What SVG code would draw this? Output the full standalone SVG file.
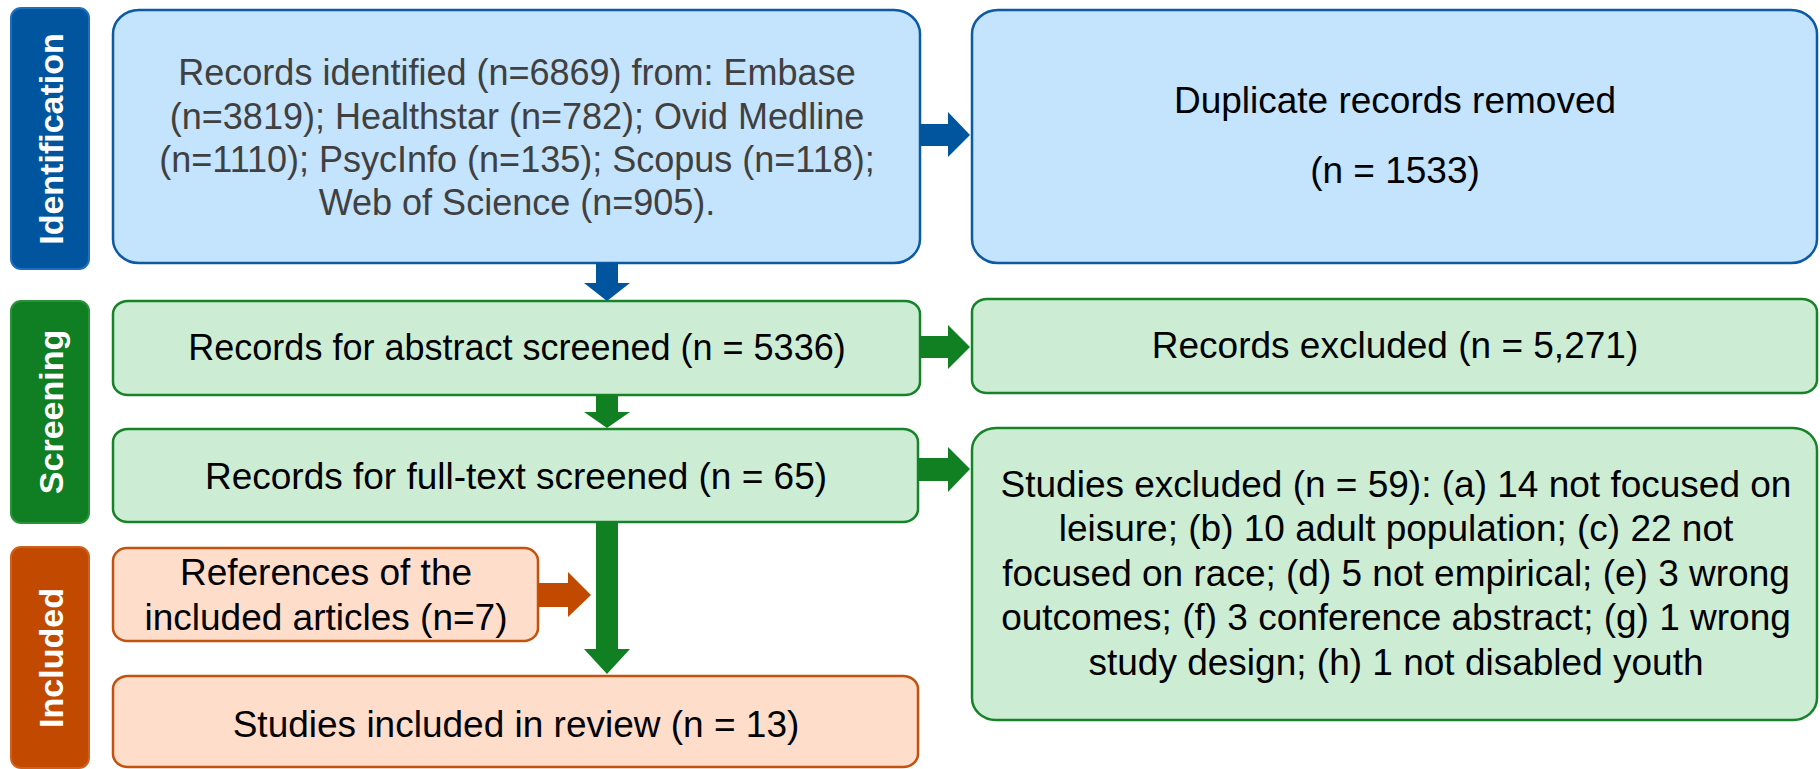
<svg xmlns="http://www.w3.org/2000/svg" width="1820" height="769" viewBox="0 0 1820 769">
  <style>
    text { font-family: "Liberation Sans", Arial, sans-serif; }
    .lbl { font-size: 34px; font-weight: bold; fill: #ffffff; text-anchor: middle; }
    .t { font-size: 37px; fill: #000000; text-anchor: middle; }
    .t36 { font-size: 36px; fill: #000000; text-anchor: middle; }
    .tg { font-size: 36px; fill: #404040; text-anchor: middle; }
    .blue-box { fill: #C4E3FC; stroke: #0B5AA3; stroke-width: 2.5; }
    .green-box { fill: #CCEDD3; stroke: #178329; stroke-width: 2.5; }
    .orange-box { fill: #FEDDCA; stroke: #C5520C; stroke-width: 2.5; }
    .blue-tag { fill: #00569E; stroke: #1F6FC0; stroke-width: 2; }
    .green-tag { fill: #107E22; stroke: #2A9338; stroke-width: 2; }
    .orange-tag { fill: #C24A00; stroke: #D06020; stroke-width: 2; }
    .arr-blue { fill: #00569E; }
    .arr-green { fill: #118022; }
    .arr-orange { fill: #C24A00; }
  </style>

  <!-- stage labels -->
  <g id="stage-identification">
    <rect class="blue-tag" x="11" y="8" width="78" height="261" rx="10" ry="10"/>
    <text class="lbl" transform="translate(63,139) rotate(-90)">Identification</text>
  </g>
  <g id="stage-screening">
    <rect class="green-tag" x="11" y="301" width="78" height="222" rx="10" ry="10"/>
    <text class="lbl" transform="translate(63,412) rotate(-90)">Screening</text>
  </g>
  <g id="stage-included">
    <rect class="orange-tag" x="11" y="547" width="78" height="221" rx="10" ry="10"/>
    <text class="lbl" transform="translate(63,658) rotate(-90)">Included</text>
  </g>

  <!-- identification -->
  <g id="records-identified">
    <rect class="blue-box" x="113" y="10" width="807" height="253" rx="26" ry="24"/>
    <text class="tg" x="517" y="85">Records identified (n=6869) from: Embase</text>
    <text class="tg" x="517" y="128.5">(n=3819); Healthstar (n=782); Ovid Medline</text>
    <text class="tg" x="517" y="172">(n=1110); PsycInfo (n=135); Scopus (n=118);</text>
    <text class="tg" x="517" y="215">Web of Science (n=905).</text>
  </g>
  <g id="duplicates-removed">
    <rect class="blue-box" x="972" y="10" width="845" height="253" rx="26" ry="24"/>
    <text class="t" x="1395" y="113">Duplicate records removed</text>
    <text class="t" x="1395" y="183">(n = 1533)</text>
  </g>

  <!-- screening -->
  <g id="abstract-screened">
    <rect class="green-box" x="113" y="301" width="807" height="94" rx="15" ry="13"/>
    <text class="t36" x="517" y="360">Records for abstract screened (n = 5336)</text>
  </g>
  <g id="records-excluded">
    <rect class="green-box" x="972" y="299" width="845" height="94" rx="15" ry="13"/>
    <text class="t" x="1395" y="358">Records excluded (n = 5,271)</text>
  </g>
  <g id="fulltext-screened">
    <rect class="green-box" x="113" y="429" width="805" height="93" rx="15" ry="13"/>
    <text class="t" x="516" y="489">Records for full-text screened (n = 65)</text>
  </g>
  <g id="studies-excluded">
    <rect class="green-box" x="972" y="428" width="845" height="292" rx="24" ry="22"/>
    <text class="t" x="1396" y="497">Studies excluded (n = 59): (a) 14 not focused on</text>
    <text class="t" x="1396" y="541">leisure; (b) 10 adult population; (c) 22 not</text>
    <text class="t" x="1396" y="586">focused on race; (d) 5 not empirical; (e) 3 wrong</text>
    <text class="t" x="1396" y="630">outcomes; (f) 3 conference abstract; (g) 1 wrong</text>
    <text class="t" x="1396" y="675">study design; (h) 1 not disabled youth</text>
  </g>

  <!-- included -->
  <g id="references">
    <rect class="orange-box" x="113" y="548" width="425" height="93" rx="14" ry="13"/>
    <text class="t" x="326" y="585">References of the</text>
    <text class="t" x="326" y="630">included articles (n=7)</text>
  </g>
  <g id="studies-included">
    <rect class="orange-box" x="113" y="676" width="805" height="91" rx="15" ry="13"/>
    <text class="t" x="516" y="737">Studies included in review (n = 13)</text>
  </g>

  <!-- connectors: block arrows -->
  <g id="connectors">
    <polygon class="arr-blue" points="920,124 948,124 948,112 970,135 948,157 948,146 920,146"/>
    <polygon class="arr-blue" points="596,263 618,263 618,283 630,283 607,301 584,283 596,283"/>
    <polygon class="arr-green" points="920,336 948,336 948,325 970,347 948,369 948,358 920,358"/>
    <polygon class="arr-green" points="596,395 618,395 618,412 630,412 607,428 584,412 596,412"/>
    <polygon class="arr-green" points="918,458 948,458 948,447 970,469 948,492 948,481 918,481"/>
    <polygon class="arr-green" points="596,522 618,522 618,649 630,649 607,674 584,649 596,649"/>
    <polygon class="arr-orange" points="538,583 568,583 568,572 591,595 568,617 568,607 538,607"/>
  </g>
</svg>
